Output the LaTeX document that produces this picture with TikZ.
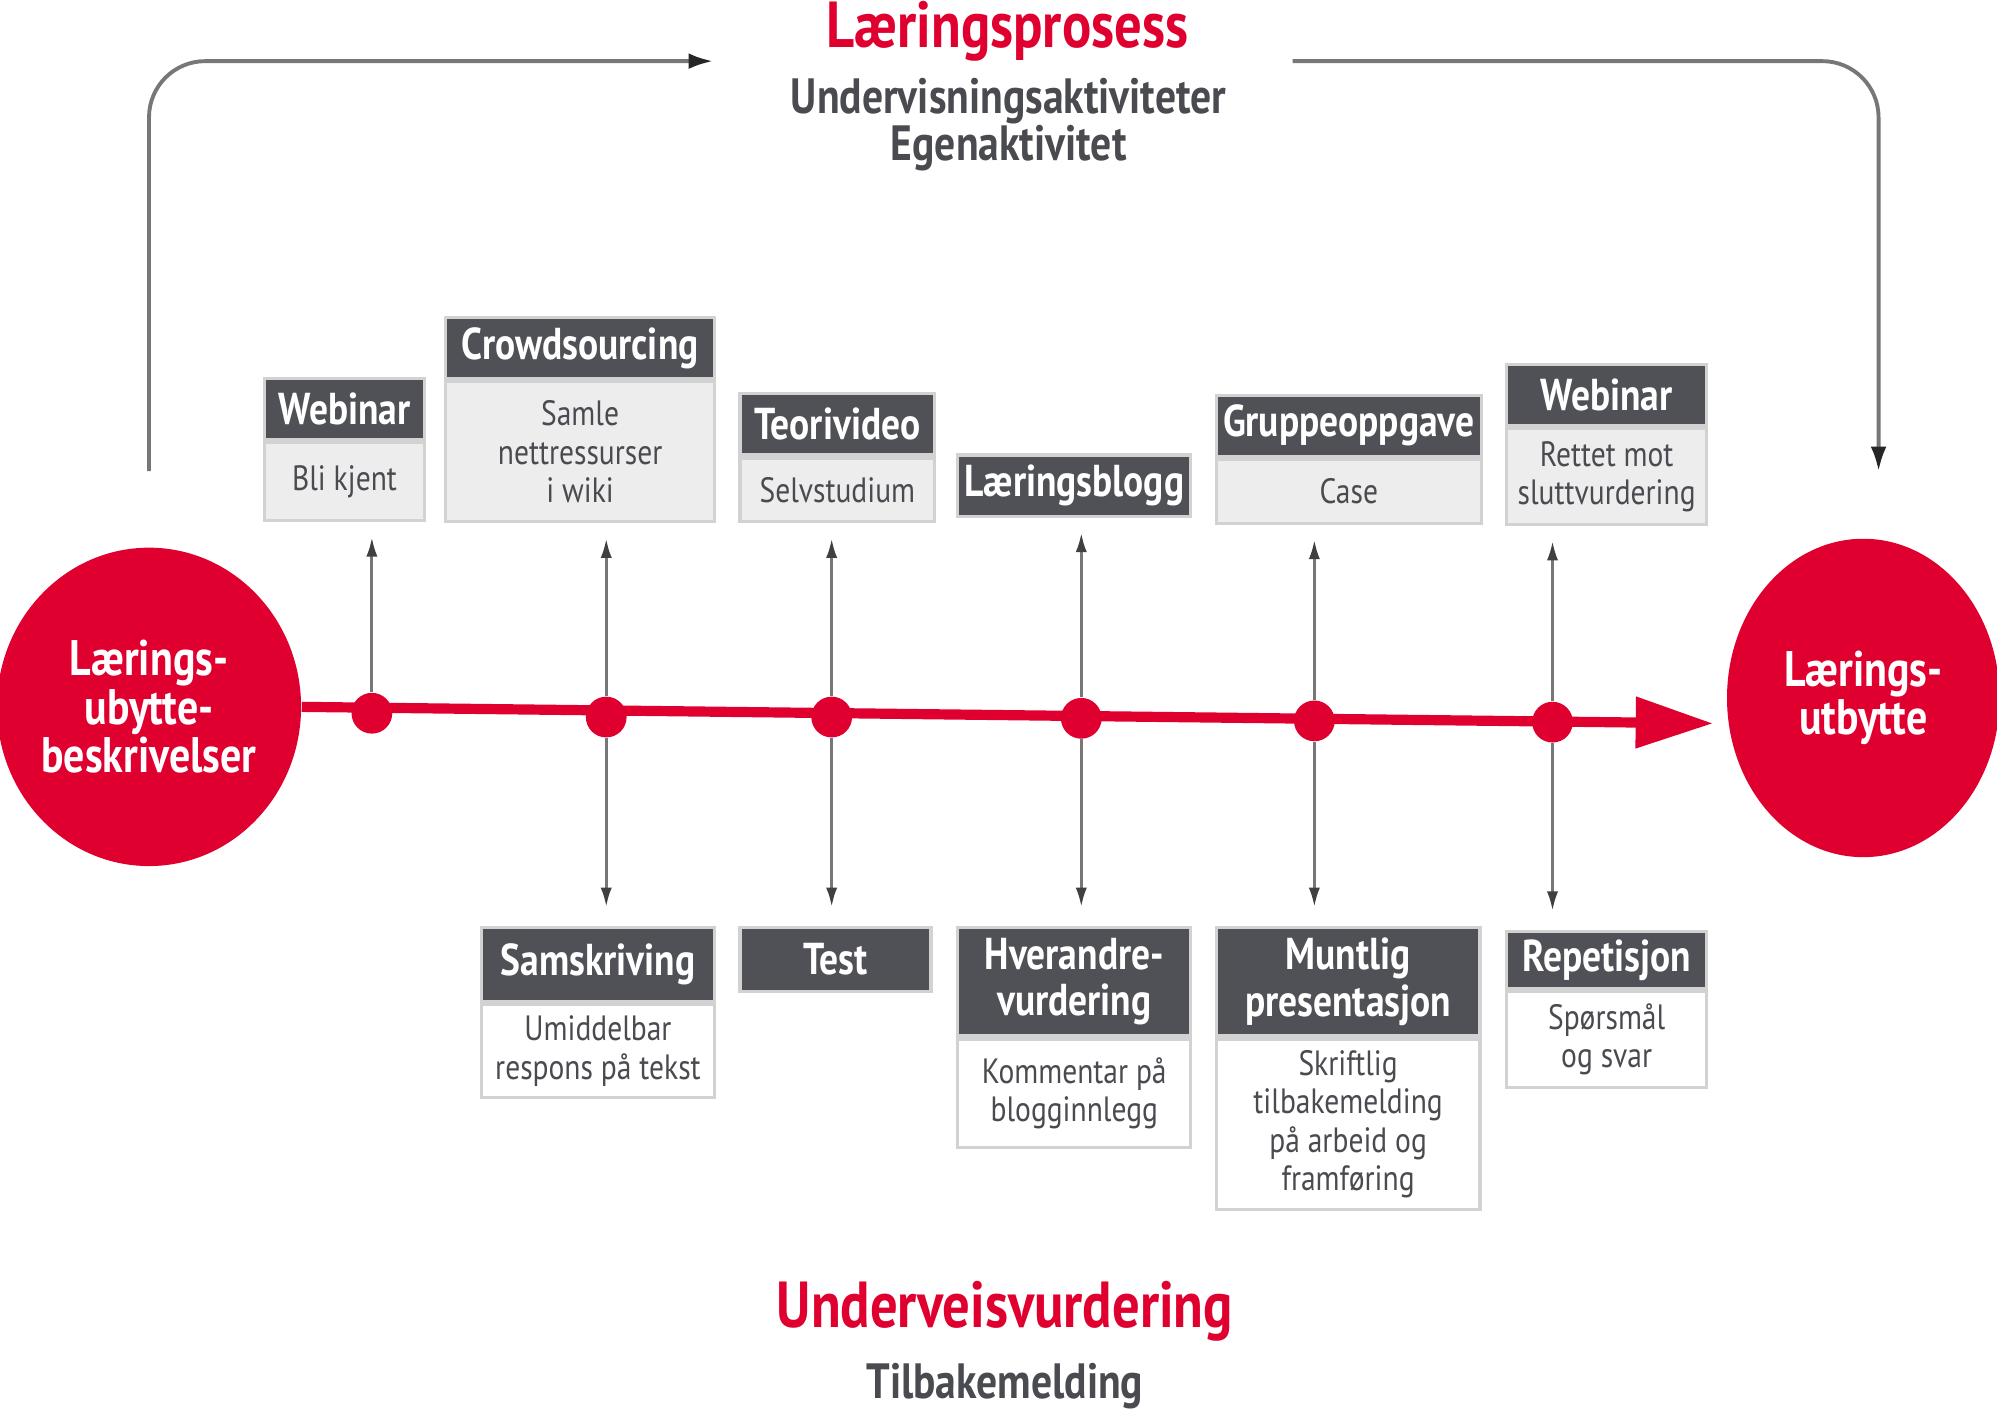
\documentclass[tikz,border=0pt]{standalone}
\usepackage{fontspec}
\setmainfont{PT Sans}[FakeStretch=0.84]
\usetikzlibrary{arrows.meta, positioning, shapes.geometric}
\definecolor{lred}{HTML}{DF0030}
\definecolor{hdgray}{HTML}{505157}
\definecolor{bdgray}{HTML}{EDEDEE}
\definecolor{lngray}{HTML}{777777}
\definecolor{txgray}{HTML}{4A4B50}
\tikzset{
  box/.style = {align=center, inner sep=1pt, text centered, draw=gray!35,
    line width=0.9pt, anchor=north},
  hd/.style = {box, fill=hdgray, text=white,
    font=\fontsize{12.7}{13.2}\selectfont\bfseries},
  bd/.style = {box, fill=bdgray, text=txgray,
    font=\fontsize{10}{10.9}\selectfont},
  wbd/.style = {bd, fill=white},
  wd/.style = {minimum width=#1*0.12736mm},
  ht/.style = {minimum height=#1*0.12736mm},
  dot/.style = {circle, fill=lred, inner sep=0pt, minimum size=32*0.12736mm},
  bigc/.style = {ellipse, fill=lred, text=white, align=center, inner sep=0pt,
    font=\fontsize{14.2}{13.8}\selectfont\bfseries},
  ttl/.style = {text=lred, anchor=base, font=\fontsize{18.5}{20}\selectfont\bfseries},
  sub/.style = {text=txgray, align=center, font=\fontsize{14.1}{13.4}\selectfont\bfseries},
  tline/.style = {lred, line width=2.9pt, -{Triangle[length=22pt, width=14pt]}},
  varr/.style = {lngray, line width=0.8pt, -{Latex[length=5.5pt, width=3.2pt, color=black!75]}},
  brk/.style = {lngray, line width=1.1pt, rounded corners=16pt,
    -{Latex[length=7pt, width=4.5pt, color=black!85]}},
}
\begin{document}
\begin{tikzpicture}[x=0.12736mm, y=-0.12736mm]
\useasboundingbox (0,0) rectangle (1568,1107);

% titles
\node [ttl] (ttl) at (791,37) {Læringsprosess};
\node [sub] (sub) at (792,98) {Undervisningsaktiviteter\\Egenaktivitet};
\node [ttl] (ttl2) at (789,1042) {Underveisvurdering};
\node [sub] (sub2) at (789,1088) {Tilbakemelding};

% bracket
\coordinate (bl) at (117,370);
\coordinate (bm) at (560,48);
\coordinate (br) at (1015,48);
\coordinate (be) at (1475,370);
\draw [brk] (bl) |- (bm);
\draw [brk] (br) -| (be);

% circles and time line
\node [bigc, minimum width=224*0.12736mm, minimum height=250*0.12736mm] (lc) at (117,555)
  {Lærings-\\ubytte-\\beskrivelser};
\node [bigc, minimum width=214*0.12736mm, minimum height=250*0.12736mm] (rc) at (1463,548)
  {Lærings-\\utbytte};
\coordinate (tip) at (1345,568);
\draw [tline] (lc.east) -- (tip);
\node [dot] (dot1) at (292,560) {};
\node [dot] (dot2) at (476,563) {};
\node [dot] (dot3) at (653,563) {};
\node [dot] (dot4) at (849,564) {};
\node [dot] (dot5) at (1032,566) {};
\node [dot] (dot6) at (1219,567) {};

% upper boxes
\node [hd, wd=125, ht=48] (top1) at (270.5,296) {Webinar};
\node [bd, wd=125, ht=61] (top1b) at (top1.south) {Bli kjent};
\node [hd, wd=211, ht=48] (top2) at (455.5,248) {Crowdsourcing};
\node [bd, wd=211, ht=110] (top2b) at (top2.south) {Samle\\nettressurser\\i wiki};
\node [hd, wd=153, ht=48] (top3) at (657.5,308) {Teorivideo};
\node [bd, wd=153, ht=50] (top3b) at (top3.south) {Selvstudium};
\node [hd, wd=183, ht=48] (top4) at (843.5,356) {Læringsblogg};
\node [hd, wd=208, ht=48] (top5) at (1059,309) {Gruppeoppgave};
\node [bd, wd=208, ht=50] (top5b) at (top5.south) {Case};
\node [hd, wd=157, ht=48] (top6) at (1261.5,285) {Webinar};
\node [bd, wd=157, ht=75] (top6b) at (top6.south) {Rettet mot\\sluttvurdering};

% lower boxes
\node [hd, wd=183, ht=58] (bot2) at (469.5,727) {Samskriving};
\node [wbd, wd=183, ht=73] (bot2b) at (bot2.south) {Umiddelbar\\respons på tekst};
\node [hd, wd=150, ht=50] (bot3) at (656,727) {Test};
\node [hd, wd=183, ht=85] (bot4) at (843.5,727) {Hverandre-\\vurdering};
\node [wbd, wd=183, ht=85] (bot4b) at (bot4.south) {Kommentar på\\blogginnlegg};
\node [hd, wd=207, ht=85] (bot5) at (1058.5,727) {Muntlig\\presentasjon};
\node [wbd, wd=207, ht=134] (bot5b) at (bot5.south) {Skriftlig\\tilbakemelding\\på arbeid og\\framføring};
\node [hd, wd=157, ht=45] (bot6) at (1261.5,730) {Repetisjon};
\node [wbd, wd=157, ht=75] (bot6b) at (bot6.south) {Spørsmål\\og svar};

% arrows
\draw [varr, shorten >=4.3pt] (dot1) -- (dot1 |- top1b.south);
\draw [varr, shorten >=4.3pt] (dot2) -- (dot2 |- top2b.south);
\draw [varr, shorten >=4.3pt] (dot3) -- (dot3 |- top3b.south);
\draw [varr, shorten >=4.3pt] (dot4) -- (dot4 |- top4.south);
\draw [varr, shorten >=4.3pt] (dot5) -- (dot5 |- top5b.south);
\draw [varr, shorten >=4.3pt] (dot6) -- (dot6 |- top6b.south);
\draw [varr, shorten >=5.4pt] (dot2) -- (dot2 |- bot2.north);
\draw [varr, shorten >=5.4pt] (dot3) -- (dot3 |- bot3.north);
\draw [varr, shorten >=5.4pt] (dot4) -- (dot4 |- bot4.north);
\draw [varr, shorten >=5.4pt] (dot5) -- (dot5 |- bot5.north);
\draw [varr, shorten >=5.4pt] (dot6) -- (dot6 |- bot6.north);
\end{tikzpicture}
\end{document}
